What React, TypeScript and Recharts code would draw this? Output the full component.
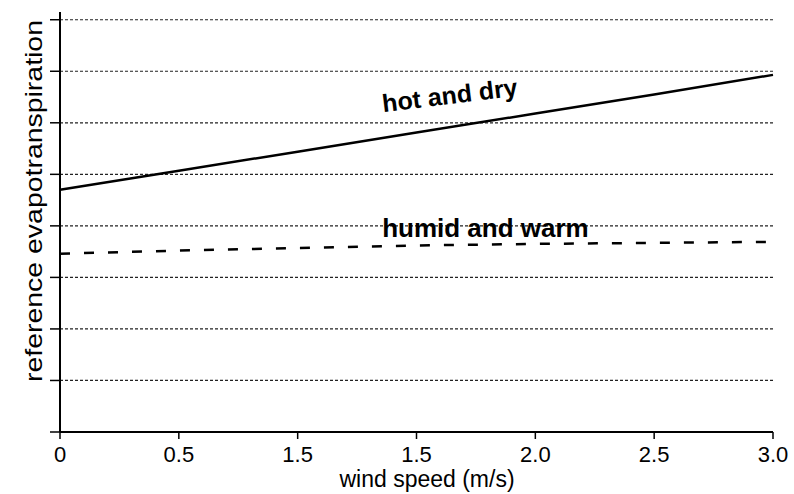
import { Line, LineChart, ReferenceDot, ReferenceLine, XAxis, YAxis } from "recharts"

// wind speed positions and the labels printed under them (the source prints 1.5 twice)
const windSpeed = [0, 0.5, 1, 1.5, 2, 2.5, 3]
const tickLabels = ["0", "0.5", "1.5", "1.5", "2.0", "2.5", "3.0"]
const hotAndDry = [4.7, 5.07, 5.44, 5.81, 6.18, 6.55, 6.93]
const humidAndWarm = [3.46, 3.52, 3.57, 3.62, 3.65, 3.67, 3.69]
const yTicks = [0, 1, 2, 3, 4, 5, 6, 7, 8]

const font = '"Liberation Sans", Arial, sans-serif'

export default function App() {
  const data = windSpeed.map((x, i) => ({
    x,
    hot: hotAndDry[i],
    humid: humidAndWarm[i],
  }))

  return (
    <div style={{ position: "absolute", left: 0, top: 0, background: "#fff" }}>
      <LineChart width={794} height={494} data={data} margin={{ top: 12, right: 21, left: 50, bottom: 12 }}>
        {/* dotted horizontal grid, one line per y tick */}
        {yTicks.slice(1).map((t) => (
          <ReferenceLine
            key={t}
            yAxisId="left"
            y={t}
            stroke="#222"
            strokeDasharray="3 2"
            strokeWidth={1.2}
          />
        ))}
        <XAxis
          dataKey="x"
          type="number"
          domain={[0, 3]}
          ticks={windSpeed}
          tickFormatter={(v) => tickLabels[windSpeed.indexOf(v)] ?? ""}
          axisLine={{ stroke: "#000", strokeWidth: 2 }}
          tickLine={{ stroke: "#000", strokeWidth: 1.5 }}
          tickSize={7}
          height={50}
          tick={{ fill: "#000", fontSize: 22, fontFamily: font }}
          tickMargin={7}
          label={{
            content: () => (
              <text x={427} y={487} textAnchor="middle" fontSize={23} fontFamily={font} fill="#000">
                wind speed (m/s)
              </text>
            ),
          }}
        />
        <YAxis
          yAxisId="left"
          domain={[0, 8.15]}
          ticks={yTicks}
          tickFormatter={() => ""}
          width={10}
          tickSize={10}
          axisLine={{ stroke: "#000", strokeWidth: 2 }}
          tickLine={{ stroke: "#000", strokeWidth: 1.5 }}
          label={{
            content: () => (
              <text
                transform="translate(42,201) rotate(-90)"
                textAnchor="middle"
                fontSize={24}
                fontFamily={font}
                fill="#000"
                textLength={362}
                lengthAdjust="spacingAndGlyphs"
              >
                reference evapotranspiration
              </text>
            ),
          }}
        />
        <YAxis
          yAxisId="right"
          orientation="right"
          domain={[0, 8.15]}
          tick={false}
          tickLine={false}
          width={0}
          axisLine={{ stroke: "#000", strokeWidth: 2 }}
        />
        <Line
          yAxisId="left"
          type="linear"
          dataKey="hot"
          stroke="#000"
          strokeWidth={2.5}
          dot={false}
          isAnimationActive={false}
        />
        <Line
          yAxisId="left"
          type="linear"
          dataKey="humid"
          stroke="#000"
          strokeWidth={2.5}
          strokeDasharray="10 14"
          dot={false}
          isAnimationActive={false}
        />
        <ReferenceDot
          yAxisId="left"
          x={1.64}
          y={6.54}
          r={0}
          label={{
            content: (p: any) => (
              <text
                x={p.viewBox?.x ?? 0}
                y={p.viewBox?.y ?? 0}
                textAnchor="middle"
                dominantBaseline="central"
                fontSize={25}
                fontWeight="bold"
                fontFamily={font}
                fill="#000"
                transform={`rotate(-7 ${p.viewBox?.x ?? 0} ${p.viewBox?.y ?? 0})`}
              >
                hot and dry
              </text>
            ),
          }}
        />
        <ReferenceDot
          yAxisId="left"
          x={1.79}
          y={3.96}
          r={0}
          label={{
            content: (p: any) => (
              <text
                x={p.viewBox?.x ?? 0}
                y={p.viewBox?.y ?? 0}
                textAnchor="middle"
                dominantBaseline="central"
                fontSize={26}
                fontWeight="bold"
                fontFamily={font}
                fill="#000"
              >
                humid and warm
              </text>
            ),
          }}
        />
      </LineChart>
    </div>
  )
}
